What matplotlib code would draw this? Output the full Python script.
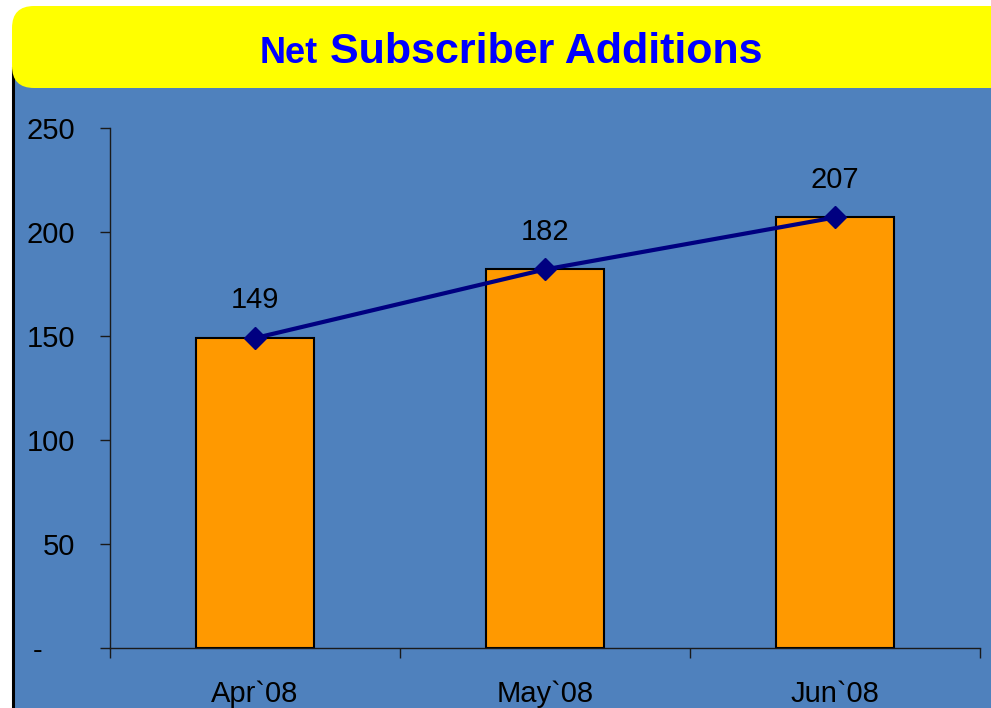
import matplotlib.pyplot as plt
from matplotlib.patches import FancyBboxPatch, Rectangle
from matplotlib.lines import Line2D

plt.rcParams['font.family'] = ['Liberation Sans', 'DejaVu Sans']

# data
months = ["Apr`08", "May`08", "Jun`08"]
net_adds = [149, 182, 207]
y_ticks = [0, 50, 100, 150, 200, 250]
y_tick_labels = ["-    ", "50", "100", "150", "200", "250"]

panel_blue = "#4F81BD"
bar_orange = "#FF9900"
line_navy = "#000080"

fig = plt.figure(figsize=(9.91, 7.08), dpi=100)
fig.patch.set_facecolor("white")

# background panel (inches, from bottom-left), kept behind the axes
inch = fig.dpi_scale_trans
fig.patches.append(Rectangle((0.12, -0.1), 10.0, 6.5, transform=inch,
                             facecolor=panel_blue, edgecolor="none", zorder=-3))
fig.lines.append(Line2D([0.125, 0.125], [-0.1, 6.4], transform=inch,
                        color="black", lw=2.2, zorder=-2))
# yellow header
fig.patches.append(FancyBboxPatch((0.12, 6.20), 10.5, 0.82, transform=inch,
                                  boxstyle="round,pad=0,rounding_size=0.22",
                                  facecolor="#FFFF00", edgecolor="none", zorder=-1))

# title with two sizes
fig.text(318 / 991, 1 - 63 / 708, "Net", ha="right", va="baseline",
         fontsize=26, fontweight="bold", color="#0000FF", zorder=3)
fig.text(330 / 991, 1 - 63 / 708, "Subscriber Additions", ha="left", va="baseline",
         fontsize=31, fontweight="bold", color="#0000FF", zorder=3)

ax = fig.add_axes([110 / 991, 60 / 708, 870 / 991, 520 / 708])
ax.set_facecolor("none")
x = list(range(len(months)))

ax.bar(x, net_adds, width=0.41, color=bar_orange, edgecolor="black",
       linewidth=1.5, zorder=2)
ax.plot(x, net_adds, color=line_navy, lw=3, marker="D", markersize=11,
        zorder=3)
for xi, v in zip(x, net_adds):
    ax.annotate(str(v), (xi, v), xytext=(0, 21.5), textcoords="offset points",
                ha="center", va="baseline", fontsize=21, color="black")

ax.set_xlim(-0.5, 2.5)
ax.set_ylim(0, 250)
ax.set_yticks(y_ticks)
ax.set_yticklabels(y_tick_labels)
ax.set_xticks([-0.5, 0.5, 1.5, 2.5])
ax.set_xticklabels([])
ax.set_xticks(x, minor=True)
ax.set_xticklabels(months, minor=True)

for s in ["top", "right"]:
    ax.spines[s].set_visible(False)
for s in ["left", "bottom"]:
    ax.spines[s].set_color("#1a1a1a")
    ax.spines[s].set_linewidth(1)

ax.tick_params(axis="y", direction="out", length=7, width=1, color="#1a1a1a",
               labelsize=21, pad=18)
ax.tick_params(axis="x", which="major", direction="out", length=7, width=1,
               color="#1a1a1a")
ax.tick_params(axis="x", which="minor", length=0, labelsize=21, pad=23)

fig.savefig("out.png", dpi=100)
